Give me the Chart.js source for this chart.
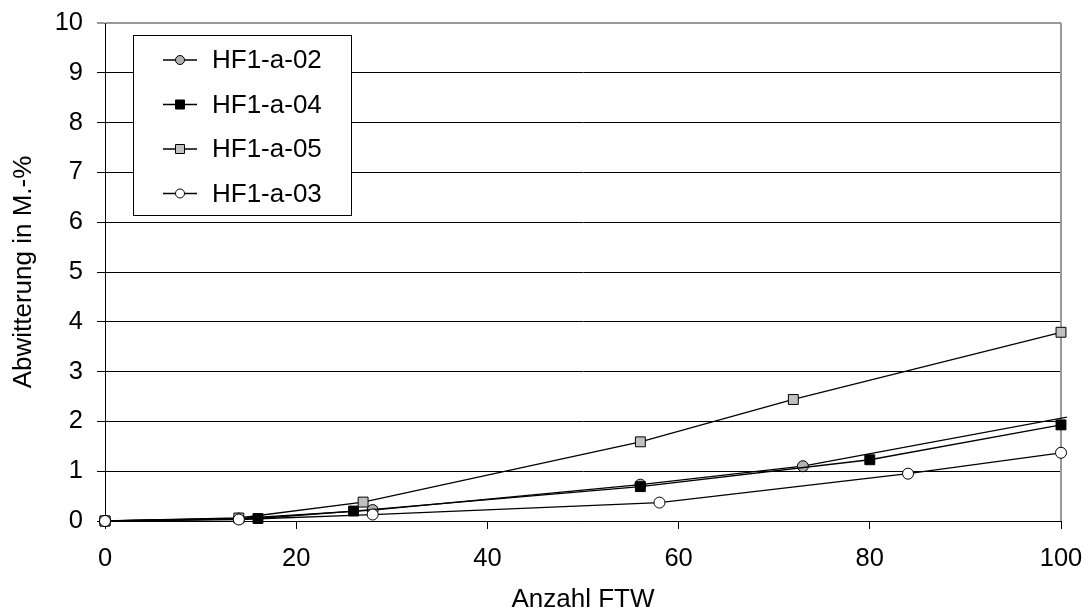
<!DOCTYPE html>
<html>
<head>
<meta charset="utf-8">
<script src="https://cdn.jsdelivr.net/npm/chart.js@4"></script>
<style>
  html, body { margin: 0; padding: 0; background: #fff; }
  #wrap { width: 1088px; height: 615px; position: relative; }
</style>
</head>
<body>
<div id="wrap"><canvas id="c" width="1088" height="615"></canvas></div>
<script>
const seriesNames = ['HF1-a-02', 'HF1-a-04', 'HF1-a-05', 'HF1-a-03'];
const x02 = [0, 14, 28, 56, 73, 103];
const y02 = [0, 0.05, 0.22, 0.73, 1.1, 2.17];
const x04 = [0, 16, 26, 56, 80, 100];
const y04 = [0, 0.05, 0.2, 0.69, 1.23, 1.93];
const x05 = [0, 14, 27, 56, 72, 100];
const y05 = [0, 0.06, 0.38, 1.59, 2.44, 3.79];
const x03 = [0, 14, 28, 58, 84, 100];
const y03 = [0, 0.03, 0.13, 0.37, 0.95, 1.37];
const xTicks = [0, 20, 40, 60, 80, 100];
const yTicks = [0, 1, 2, 3, 4, 5, 6, 7, 8, 9, 10];
const xTitle = 'Anzahl FTW';
const yTitle = 'Abwitterung in M.-%';

const FONT = 'Liberation Sans, Arial, sans-serif';
const pts = (xs, ys) => xs.map((x, i) => ({ x: x, y: ys[i] }));

const styles = [
  { pointStyle: 'circle', radius: 5.5, fill: '#b2b2b2', order: 3, clip: { left: 10, top: 10, right: 6, bottom: 10 } },
  { pointStyle: 'rect', radius: 7, fill: '#000000', order: 2, clip: false },
  { pointStyle: 'rect', radius: 7, fill: '#c0c0c0', order: 1, clip: false },
  { pointStyle: 'circle', radius: 5.5, fill: '#ffffff', order: 0, clip: false }
];
const dataSets = [pts(x02, y02), pts(x04, y04), pts(x05, y05), pts(x03, y03)];

const datasets = dataSets.map((d, i) => ({
  label: seriesNames[i],
  data: d,
  borderColor: '#000',
  borderWidth: 1.3,
  backgroundColor: styles[i].fill,
  pointStyle: styles[i].pointStyle,
  pointRadius: styles[i].radius,
  pointHoverRadius: styles[i].radius,
  pointBackgroundColor: styles[i].fill,
  pointBorderColor: '#000',
  pointBorderWidth: 1,
  showLine: true,
  tension: 0,
  order: styles[i].order,
  clip: styles[i].clip
}));

const frameBorder = {
  id: 'frameBorder',
  beforeDatasetsDraw(chart) {
    const ctx = chart.ctx;
    const ca = chart.chartArea;
    ctx.save();
    ctx.strokeStyle = '#999';
    ctx.lineWidth = 2;
    ctx.beginPath();
    ctx.moveTo(Math.round(ca.right), ca.top);
    ctx.lineTo(Math.round(ca.right), ca.bottom);
    ctx.stroke();
    ctx.restore();
  }
};

const boxLegend = {
  id: 'boxLegend',
  afterDraw(chart) {
    const ctx = chart.ctx;
    ctx.save();
    const bx = 133.5, by = 35.5, bw = 218, bh = 180;
    ctx.fillStyle = '#fff';
    ctx.fillRect(bx, by, bw, bh);
    ctx.strokeStyle = '#000';
    ctx.lineWidth = 1;
    ctx.strokeRect(bx, by, bw, bh);
    chart.data.datasets.forEach((ds, i) => {
      const cy = 60 + i * 44.5;
      ctx.strokeStyle = '#000';
      ctx.lineWidth = 1.3;
      ctx.beginPath();
      ctx.moveTo(163, cy);
      ctx.lineTo(197, cy);
      ctx.stroke();
      ctx.fillStyle = ds.pointBackgroundColor;
      ctx.strokeStyle = '#000';
      ctx.lineWidth = 1;
      ctx.beginPath();
      if (ds.pointStyle === 'rect') {
        ctx.rect(175.5, cy - 4.5, 9, 9);
      } else {
        ctx.arc(180, cy, 4.5, 0, Math.PI * 2);
      }
      ctx.fill();
      ctx.stroke();
      ctx.fillStyle = '#000';
      ctx.font = '26px ' + FONT;
      ctx.textBaseline = 'middle';
      ctx.textAlign = 'left';
      ctx.fillText(ds.label, 212, cy + 1);
    });
    ctx.restore();
  }
};

new Chart(document.getElementById('c'), {
  type: 'scatter',
  data: { datasets: datasets },
  options: {
    responsive: false,
    animation: false,
    devicePixelRatio: 1,
    layout: { padding: { top: 23, right: 27, left: 0, bottom: 0 } },
    plugins: { legend: { display: false }, tooltip: { enabled: false } },
    scales: {
      x: {
        type: 'linear',
        min: 0, max: 100,
        afterBuildTicks: (s) => { s.ticks = xTicks.map(v => ({ value: v })); },
        afterFit: (s) => { s.height = 94; s.paddingLeft = 0; s.paddingRight = 0; s.paddingTop = 0; s.paddingBottom = 0; },
        ticks: { color: '#000', font: { family: FONT, size: 25.5 }, padding: 15, maxRotation: 0 },
        grid: { drawOnChartArea: false, drawTicks: true, tickLength: 8, color: '#000', lineWidth: 1 },
        border: { color: '#000', width: 1 },
        title: { display: true, text: xTitle, color: '#000', font: { family: FONT, size: 26 }, padding: { top: 6, bottom: 0 } }
      },
      y: {
        type: 'linear',
        min: 0, max: 10,
        afterBuildTicks: (s) => { s.ticks = yTicks.map(v => ({ value: v })); },
        afterFit: (s) => { s.width = 105; s.paddingLeft = 0; s.paddingRight = 0; s.paddingTop = 0; s.paddingBottom = 0; },
        ticks: { color: '#000', font: { family: FONT, size: 25.5 }, padding: 14 },
        grid: {
          drawTicks: true, tickLength: 8,
          lineWidth: (c) => (c.tick && c.tick.value === 10) ? 2 : 1,
          color: (c) => (c.tick && c.tick.value === 10) ? '#999' : '#000'
        },
        border: { color: '#000', width: 1 },
        title: { display: true, text: yTitle, color: '#000', font: { family: FONT, size: 26 }, padding: { top: 8, bottom: 6 } }
      }
    }
  },
  plugins: [frameBorder, boxLegend]
});
</script>
</body>
</html>
